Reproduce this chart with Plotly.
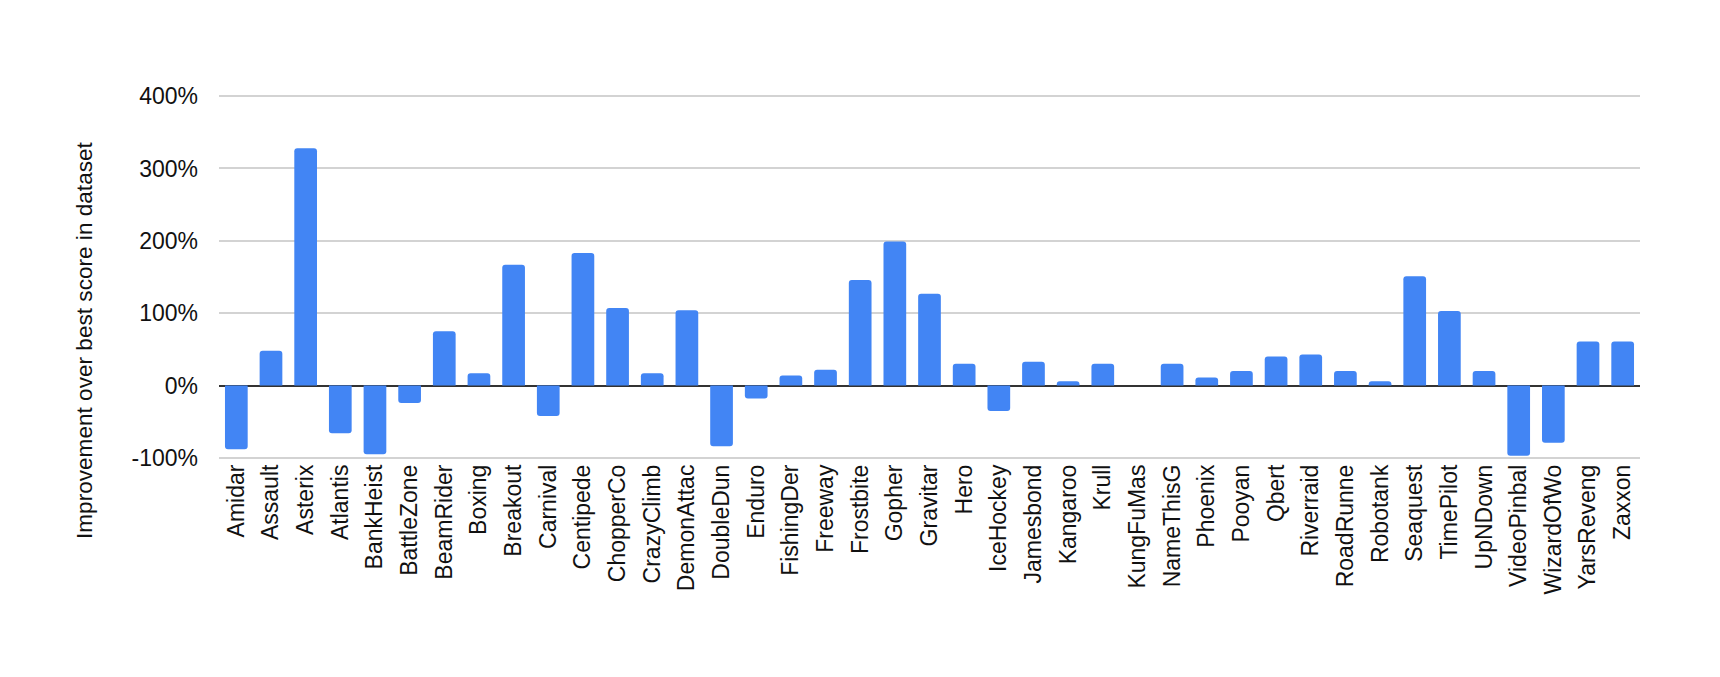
import plotly.graph_objects as go

games = ["Amidar", "Assault", "Asterix", "Atlantis", "BankHeist", "BattleZone", "BeamRider",
         "Boxing", "Breakout", "Carnival", "Centipede", "ChopperCo", "CrazyClimb", "DemonAttac",
         "DoubleDun", "Enduro", "FishingDer", "Freeway", "Frostbite", "Gopher", "Gravitar",
         "Hero", "IceHockey", "Jamesbond", "Kangaroo", "Krull", "KungFuMas", "NameThisG",
         "Phoenix", "Pooyan", "Qbert", "Riverraid", "RoadRunne", "Robotank", "Seaquest",
         "TimePilot", "UpNDown", "VideoPinbal", "WizardOfWo", "YarsReveng", "Zaxxon"]

improvement_pct = [-88, 48, 328, -66, -95, -24, 75,
                   17, 167, -42, 183, 107, 17, 104,
                   -84, -18, 14, 22, 146, 199, 127,
                   30, -35, 33, 6, 30, 0, 30,
                   11, 20, 40, 43, 20, 6, 151,
                   103, 20, -97, -79, 61, 61]

y_ticks = [-100, 0, 100, 200, 300, 400]
y_tick_labels = ["-100%", "0%", "100%", "200%", "300%", "400%"]
y_title = "Improvement over best score in dataset"

W, H = 1720, 677
L, R, T, B = 211, 88, 87, 226

fig = go.Figure(go.Bar(x=games, y=improvement_pct, marker=dict(color="#4285F4", line=dict(width=0))))

fig.update_layout(
    width=W, height=H,
    margin=dict(l=L, r=R, t=T, b=B, pad=0),
    paper_bgcolor="white", plot_bgcolor="white",
    bargap=0.345,
    barcornerradius=3,
    showlegend=False,
    font=dict(family="Liberation Sans, Arial, sans-serif", size=22, color="#111111"),
)

fig.update_xaxes(
    tickangle=-90, tickfont=dict(size=23, color="#111111"),
    showgrid=False, showline=False, ticks="",
    ticklabelstandoff=0,
)

fig.update_yaxes(
    range=[-101.5, 401.5], tickvals=y_ticks, ticktext=y_tick_labels,
    tickfont=dict(size=23, color="#111111"),
    showgrid=True, gridcolor="#d3d3d3", gridwidth=1.5,
    zeroline=True, zerolinecolor="#333333", zerolinewidth=2,
    showline=False, ticks="", ticklabelstandoff=20,
)

plot_w = W - L - R
plot_h = H - T - B
fig.add_annotation(
    text=y_title, textangle=-90, showarrow=False,
    xref="paper", yref="paper",
    x=(76 - L) / plot_w, y=(H - B - 332) / plot_h,
    xanchor="center", yanchor="middle",
    font=dict(size=22.6, color="#111111"),
)

fig.write_html("out.html")
